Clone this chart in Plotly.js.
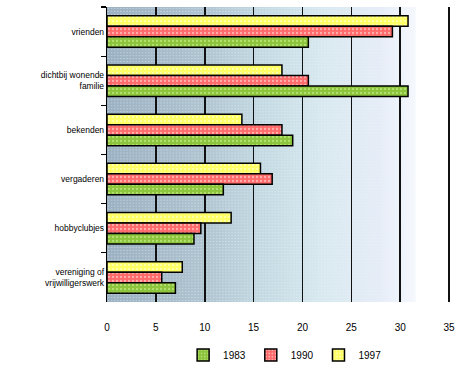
<!DOCTYPE html>
<html>
<head>
<meta charset="utf-8">
<script src="https://cdn.plot.ly/plotly-3.0.1.min.js"></script>
<style>html,body{margin:0;padding:0;background:#fff;}#chart{width:463px;height:371px;}</style>
</head>
<body>
<div id="chart"></div>
<script>
const categories = ["vrienden", "dichtbij wonende<br>familie", "bekenden", "vergaderen", "hobbyclubjes", "vereniging of<br>vrijwilligerswerk"];
const years = ["1983", "1990", "1997"];
const values1983 = [20.6, 30.8, 19.0, 11.9, 8.9, 7.0];
const values1990 = [29.2, 20.6, 17.9, 16.9, 9.6, 5.6];
const values1997 = [30.8, 17.9, 13.8, 15.7, 12.7, 7.7];
const xTicks = [0, 5, 10, 15, 20, 25, 30, 35];

const colors = {"1983": "#8cc43c", "1990": "#ff6b6b", "1997": "#ffff66"};
const dots = {"1983": "#b4e070", "1990": "#ffb0b0", "1997": "#ffffaa"};
const series = {"1983": values1983, "1990": values1990, "1997": values1997};

// order so 1997 is on top in each group (y axis reversed)
const traces = ["1997", "1990", "1983"].map(y => ({
  type: "bar",
  orientation: "h",
  name: y,
  y: categories,
  x: series[y],
  marker: {
    color: colors[y],
    line: {color: "#000", width: 1.5},
    pattern: {shape: ".", fgcolor: dots[y], bgcolor: colors[y], size: 4, solidity: 0.25}
  },
  hoverinfo: "x"
}));

const svg = '<svg xmlns="http://www.w3.org/2000/svg" width="300" height="300" preserveAspectRatio="none">' +
  '<defs><linearGradient id="g" x1="0" x2="1" y1="0" y2="0">' +
  '<stop offset="0" stop-color="#9bb0c1"/><stop offset="0.3" stop-color="#afc2cf"/>' +
  '<stop offset="0.5" stop-color="#c4d9e2"/><stop offset="0.7" stop-color="#d9e9ef"/>' +
  '<stop offset="0.88" stop-color="#e6ecf7"/><stop offset="1" stop-color="#f6f8fd"/></linearGradient>' +
  '<pattern id="p" width="3" height="3" patternUnits="userSpaceOnUse"><rect x="1" y="1" width="1" height="1" fill="#e6f6ff" opacity="0.6"/></pattern></defs>' +
  '<rect width="300" height="300" fill="url(#g)"/><rect width="300" height="300" fill="url(#p)"/></svg>';
const bg = "data:image/svg+xml;charset=utf-8," + encodeURIComponent(svg);

const layout = {
  width: 463, height: 371,
  margin: {l: 107, r: 10, t: 7, b: 69, autoexpand: false},
  paper_bgcolor: "#fff",
  plot_bgcolor: "rgba(0,0,0,0)",
  barmode: "group",
  bargap: 0.36,
  bargroupgap: 0,
  font: {family: "Liberation Sans, Arial, sans-serif", color: "#000", size: 10},
  showlegend: true,
  legend: {orientation: "h", x: 0.22, xanchor: "left", yref: "container", y: 0.043, yanchor: "middle",
    traceorder: "reversed", font: {size: 10}, itemwidth: 30},
  xaxis: {range: [0, 35.4], tickvals: xTicks, showgrid: true, gridcolor: "#111", gridwidth: 1.6,
    zeroline: false, showline: false, ticks: "", ticklabelstandoff: 18, fixedrange: true},
  yaxis: {autorange: "reversed", type: "category", showline: true, linecolor: "#000", linewidth: 1.2,
    ticks: "outside", tickson: "boundaries", ticklen: 5, tickcolor: "#000", tickwidth: 1.2,
    showgrid: false, tickfont: {size: 8.5}, fixedrange: true},
  images: [{source: bg, xref: "x", yref: "paper", x: 0, y: 1, sizex: 31.6, sizey: 1,
    sizing: "stretch", layer: "below", xanchor: "left", yanchor: "top"}]
};

Plotly.newPlot("chart", traces, layout, {displayModeBar: false, staticPlot: true});
</script>
</body>
</html>
